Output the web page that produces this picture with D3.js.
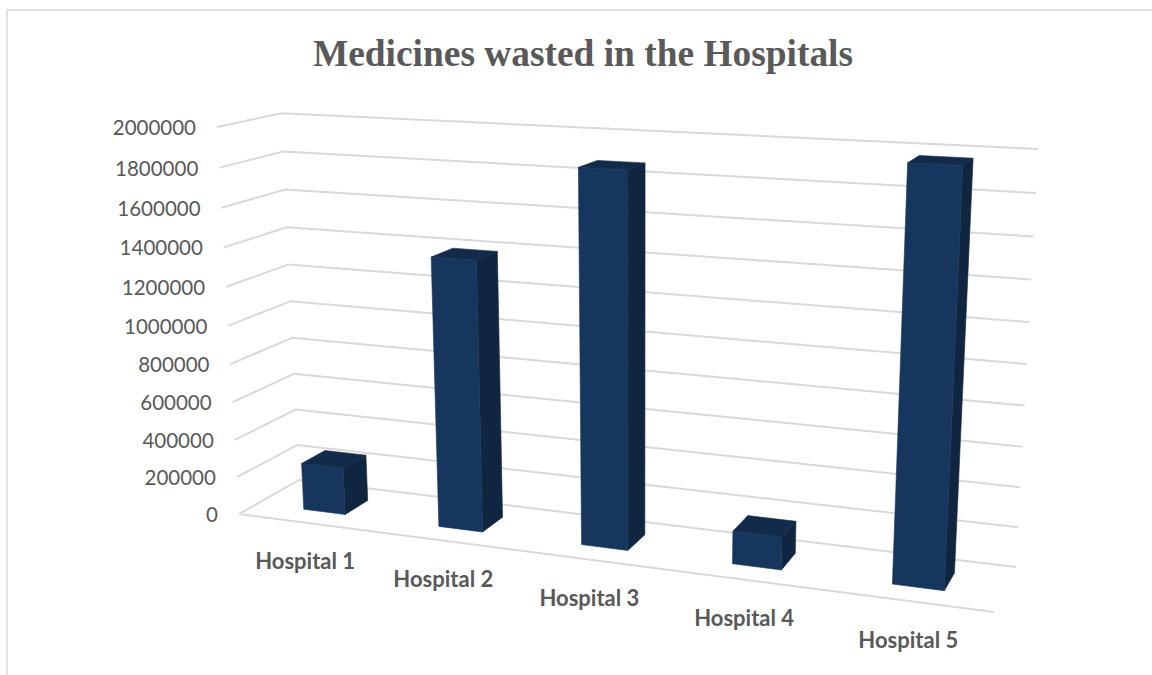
<!DOCTYPE html>
<html>
<head>
<meta charset="utf-8">
<title>Medicines wasted in the Hospitals</title>
<script src="https://cdn.jsdelivr.net/npm/d3@7"></script>
<style>
  html, body { margin: 0; padding: 0; background: #fff; overflow: hidden; }
  .title { font-family: "Liberation Serif", serif; font-weight: bold; font-size: 37.4px; fill: #595959; }
  .tick-label { font-family: Lato, sans-serif; font-size: 20.5px; fill: #595959; }
  .cat-label { font-family: Lato, sans-serif; font-weight: bold; font-size: 22px; fill: #595959; }
</style>
</head>
<body>
<div id="chart"></div>
<script>
const chartTitle = "Medicines wasted in the Hospitals";
const hospitals = ["Hospital 1", "Hospital 2", "Hospital 3", "Hospital 4", "Hospital 5"];
const wasted = [250000, 1390000, 1870000, 165000, 1970000];
const valueTicks = [0, 200000, 400000, 600000, 800000, 1000000, 1200000, 1400000, 1600000, 1800000, 2000000];

const width = 1152;
const height = 675;

const svg = d3.select("#chart")
  .append("svg")
  .attr("width", width)
  .attr("height", height);

// unit cube -> screen, the corners were measured on the picture
const origin = [239, 514];
const catEnd = [994, 612];
const valEnd = [217, 127];
const depthEnd = [299, 480];
const persp = { cat: -0.134, val: -0.052, depth: 0.0571 };

function project(c, v, d) {
  const w = 1 + persp.cat * c + persp.val * v + persp.depth * d;
  return [0, 1].map(i => (
    origin[i]
    + (catEnd[i] * (1 + persp.cat) - origin[i]) * c
    + (valEnd[i] * (1 + persp.val) - origin[i]) * v
    + (depthEnd[i] * (1 + persp.depth) - origin[i]) * d
  ) / w);
}

const catScale = d3.scaleBand()
  .domain(hospitals)
  .range([0.002, 1.002])
  .paddingInner(0.6875)
  .paddingOuter(0.34375);

const valScale = d3.scaleLinear()
  .domain([0, 2000000])
  .range([0, 1]);

const barDepth = { front: 0.3, back: 0.7 };
const line = d3.line();

// chart border
svg.append("path")
  .attr("d", line([[7, height], [7, 10], [width, 10]]))
  .attr("fill", "none")
  .attr("stroke", "#d9d9d9")
  .attr("stroke-width", 1.5);

// gridlines
const grid = svg.append("g")
  .attr("fill", "none")
  .attr("stroke", "#d9d9d9")
  .attr("stroke-width", 2);

valueTicks.forEach(t => {
  const v = valScale(t);
  grid.append("path")
    .attr("d", line([project(0, v, 0), project(0, v, 1), project(1, v, 1)]));
});

// front edge of the floor
grid.append("path")
  .attr("d", line([project(0, 0, 0), project(1, 0, 0)]));

// bars
const bars = svg.append("g");

hospitals.forEach((name, i) => {
  const c0 = catScale(name);
  const c1 = c0 + catScale.bandwidth();
  const v1 = valScale(wasted[i]);
  const d0 = barDepth.front;
  const d1 = barDepth.back;

  const g = bars.append("g").attr("stroke-width", 0.6);

  g.append("path")
    .attr("d", line([project(c1, 0, d0), project(c1, 0, d1), project(c1, v1, d1), project(c1, v1, d0)]) + "Z")
    .attr("fill", "#10253f")
    .attr("stroke", "#10253f");

  g.append("path")
    .attr("d", line([project(c0, v1, d0), project(c1, v1, d0), project(c1, v1, d1), project(c0, v1, d1)]) + "Z")
    .attr("fill", "#122b4b")
    .attr("stroke", "#122b4b");

  g.append("path")
    .attr("d", line([project(c0, 0, d0), project(c1, 0, d0), project(c1, v1, d0), project(c0, v1, d0)]) + "Z")
    .attr("fill", "#17365d")
    .attr("stroke", "#17365d");
});

// value labels
svg.append("g")
  .selectAll("text")
  .data(valueTicks)
  .enter()
  .append("text")
  .attr("class", "tick-label")
  .attr("text-anchor", "end")
  .attr("dominant-baseline", "central")
  .attr("x", d => project(0, valScale(d), 0)[0] - 21)
  .attr("y", d => project(0, valScale(d), 0)[1])
  .text(d => d);

// category labels
svg.append("g")
  .selectAll("text")
  .data(hospitals)
  .enter()
  .append("text")
  .attr("class", "cat-label")
  .attr("text-anchor", "middle")
  .attr("dominant-baseline", "central")
  .attr("x", d => project(catScale(d) + catScale.bandwidth() / 2, 0, 0)[0] - 1.5)
  .attr("y", d => project(catScale(d) + catScale.bandwidth() / 2, 0, 0)[1] + 38)
  .text(d => d);

svg.append("text")
  .attr("class", "title")
  .attr("text-anchor", "middle")
  .attr("x", 583)
  .attr("y", 66)
  .text(chartTitle);
</script>
</body>
</html>
